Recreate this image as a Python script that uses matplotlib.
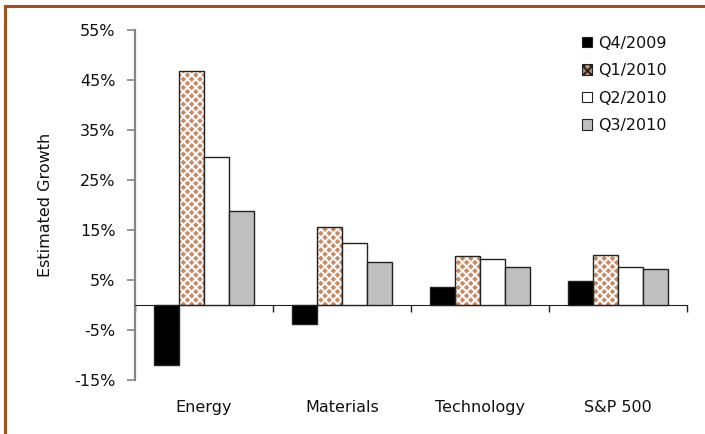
import numpy as np
import matplotlib.pyplot as plt
from matplotlib.patches import Patch
from matplotlib.transforms import blended_transform_factory

plt.rcParams['font.family'] = ['DejaVu Sans']
plt.rcParams['hatch.linewidth'] = 1.4

categories = ['Energy', 'Materials', 'Technology', 'S&P 500']
quarters = ['Q4/2009', 'Q1/2010', 'Q2/2010', 'Q3/2010']
q4_2009 = [-11.9, -3.7, 3.6, 4.9]
q1_2010 = [46.8, 15.7, 9.9, 10.0]
q2_2010 = [29.6, 12.4, 9.3, 7.7]
q3_2010 = [18.9, 8.7, 7.6, 7.3]
y_ticks = [-15, -5, 5, 15, 25, 35, 45, 55]

series = [q4_2009, q1_2010, q2_2010, q3_2010]
faces = ['#000000', '#c98a66', '#ffffff', '#c0c0c0']
hatches = [None, 'xxxx', None, None]

fig = plt.figure(figsize=(7.05, 4.34), dpi=100)
ax = fig.add_axes([0.1915, 0.1244, 0.7830, 0.8065])

x = np.arange(len(categories))
width = 0.181
for i, (vals, fc, h) in enumerate(zip(series, faces, hatches)):
    pos = x + (i - 1.5) * width
    if h:
        ax.bar(pos, vals, width, color=fc, edgecolor='white', hatch=h,
               linewidth=0, zorder=2)
        ax.bar(pos, vals, width, fill=False, edgecolor='#222222',
               linewidth=1.0, zorder=3)
    else:
        ax.bar(pos, vals, width, color=fc, edgecolor='#222222',
               linewidth=1.0, zorder=3)

ax.set_xlim(-0.5, len(categories) - 0.5)
ax.set_ylim(-15, 55)
ax.set_yticks(y_ticks)
ax.set_yticklabels([f'{v}%' for v in y_ticks])
ax.tick_params(axis='y', direction='out', length=6, width=1.2,
               color='#868686', labelsize=11.5, pad=8, labelcolor='#111111')

# category boundaries as ticks on the zero line, names below the plot
ax.set_xticks(np.arange(len(categories) + 1) - 0.5)
ax.set_xticklabels([])
ax.tick_params(axis='x', direction='out', length=5, width=1.0, color='#222222')
ax.spines['bottom'].set_position(('data', 0))
ax.spines['bottom'].set_color('#222222')
ax.spines['top'].set_visible(False)
ax.spines['right'].set_visible(False)
ax.spines['left'].set_color('#868686')
ax.spines['left'].set_linewidth(1.6)

tr = blended_transform_factory(ax.transData, ax.transAxes)
for xi, name in zip(x, categories):
    ax.text(xi, -0.078, name, transform=tr, ha='center', va='center',
            fontsize=11.5, color='#111111')

ax.set_ylabel('Estimated Growth', fontsize=11.5, color='#111111')
ax.yaxis.set_label_coords(-0.149, 0.5)

handles = [Patch(facecolor=fc, edgecolor='#222222', hatch=h, linewidth=0.8)
           for fc, h in zip(faces, hatches)]
ax.legend(handles, quarters, loc='upper right', bbox_to_anchor=(0.99, 1.025),
          frameon=False, fontsize=11.5, handlelength=0.65, handleheight=0.65,
          handletextpad=0.4, labelspacing=0.78, labelcolor='#111111')

# brown frame along the top and left edges
fig.add_artist(plt.Line2D([5 / 705, 5 / 705], [0, 1 - 6 / 434],
                          transform=fig.transFigure, color='#a0501e', lw=2.2))
fig.add_artist(plt.Line2D([5 / 705, 1], [1 - 6 / 434, 1 - 6 / 434],
                          transform=fig.transFigure, color='#a0501e', lw=2.2))

fig.savefig('out.png', dpi=100)
